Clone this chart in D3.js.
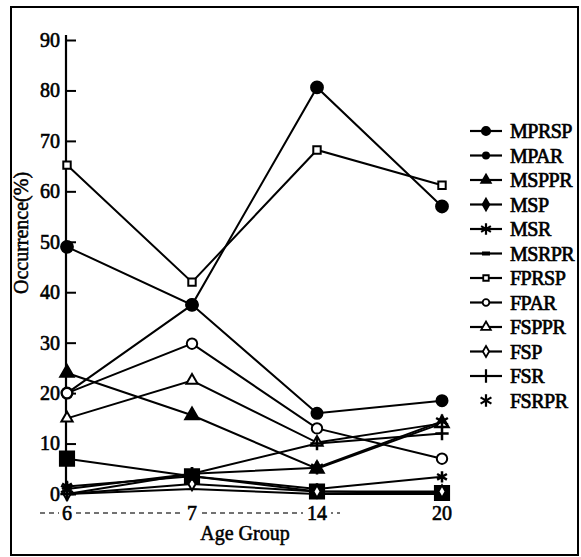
<!DOCTYPE html>
<html>
<head>
<meta charset="utf-8">
<script src="https://cdn.jsdelivr.net/npm/d3@7"></script>
<style>
  body { margin: 0; background: #fff; }
  text { font-family: "Liberation Serif", "DejaVu Serif", serif; fill: #000; }
</style>
</head>
<body>
<svg id="chart" width="581" height="557"></svg>
<script>
// age groups on the x axis
var ages = ["6", "7", "14", "20"];
var yTicks = [0, 10, 20, 30, 40, 50, 60, 70, 80, 90];

// occurrence (%) per series, one value per age group
var MPRSP = [20, 37.5, 16, 18.5];
var MPAR  = [7, 3.5, 0.5, 0.2];
var MSPPR = [24, 15.6, 5, 14];
var MSP   = [49, 37.5, 80.6, 57];
var MSR   = [1.5, 3.5, 1, 3.4];
var MSRPR = [0, 1, 0, 0];
var FPRSP = [65.2, 42, 68.2, 61.2];
var FPAR  = [20, 29.8, 13, 7];
var FSPPR = [15, 22.5, 10.2, 14];
var FSP   = [0, 2, 0.5, 0.5];
var FSR   = [0, 4, 10, 12];
var FSRPR = [1, 4, 5.2, 14.4];

var seriesNames = ["MPRSP", "MPAR", "MSPPR", "MSP", "MSR", "MSRPR",
                   "FPRSP", "FPAR", "FSPPR", "FSP", "FSR", "FSRPR"];
var seriesValues = [MPRSP, MPAR, MSPPR, MSP, MSR, MSRPR,
                    FPRSP, FPAR, FSPPR, FSP, FSR, FSRPR];

// marker look for plot and legend
var marks = {
  MPRSP: {sym: d3.symbolCircle,   size: 95,  fill: "#000", leg: 55},
  MPAR:  {sym: d3.symbolSquare,   size: 200, fill: "#000", leg: 30, legSym: d3.symbolCircle},
  MSPPR: {sym: d3.symbolTriangle, size: 80,  fill: "#000", leg: 40},
  MSP:   {sym: d3.symbolCircle,   size: 110, fill: "#000", leg: 40, legSym: d3.symbolDiamond},
  MSR:   {sym: d3.symbolAsterisk, size: 90,  fill: "none", leg: 90, stroke: true},
  MSRPR: {sym: null, leg: 0},
  FPRSP: {sym: d3.symbolSquare,   size: 55,  fill: "#fff", leg: 30},
  FPAR:  {sym: d3.symbolCircle,   size: 85,  fill: "#fff", leg: 35},
  FSPPR: {sym: d3.symbolTriangle, size: 55,  fill: "#fff", leg: 40},
  FSP:   {sym: d3.symbolDiamond,  size: 45,  fill: "#fff", leg: 35},
  FSR:   {sym: d3.symbolPlus,     size: 60,  fill: "none", leg: 60, stroke: true},
  FSRPR: {sym: d3.symbolAsterisk, size: 130, fill: "none", leg: 110, stroke: true, noLine: true}
};

var svg = d3.select("#chart");

// outer frame
svg.append("rect").attr("x", 11).attr("y", 7).attr("width", 567).attr("height", 548)
  .attr("fill", "none").attr("stroke", "#000").attr("stroke-width", 2);

var x = d3.scalePoint().domain(ages).range([67, 442]);
var y = d3.scaleLinear().domain([0, 90]).range([494, 40]);

// y axis
var yAxis = svg.append("g").attr("transform", "translate(66,0)")
  .call(d3.axisLeft(y).tickValues(yTicks).tickSize(-10).tickPadding(6).tickFormat(d3.format("d")));
yAxis.select(".domain").attr("d", "M0,35V494").attr("stroke", "#000").attr("stroke-width", 2.2);
yAxis.selectAll(".tick line").attr("stroke", "#000").attr("stroke-width", 2);
yAxis.selectAll(".tick text").style("font-size", "20px").attr("fill", "#000")
  .attr("stroke", "#000").attr("stroke-width", 0.6);

svg.append("text").attr("transform", "translate(28,233) rotate(-90)")
  .attr("text-anchor", "middle").style("font-size", "20px")
  .attr("stroke", "#000").attr("stroke-width", 0.5)
  .text("Occurrence(%)");

// dashed baseline with age labels
svg.append("line").attr("x1", 40).attr("x2", 340).attr("y1", 513).attr("y2", 513)
  .attr("stroke", "#444").attr("stroke-width", 1.5).attr("stroke-dasharray", "5,4");
var xl = svg.selectAll(".xlab").data(ages).enter().append("g")
  .attr("transform", function(d) { return "translate(" + x(d) + ",520)"; });
xl.append("rect").attr("x", function(d) { return -d.length * 6 - 2; }).attr("y", -16)
  .attr("width", function(d) { return d.length * 12 + 4; }).attr("height", 18).attr("fill", "#fff");
xl.append("text").attr("text-anchor", "middle").style("font-size", "20px")
  .attr("stroke", "#000").attr("stroke-width", 0.6).text(function(d) { return d; });

svg.append("text").attr("x", 245).attr("y", 540).attr("text-anchor", "middle")
  .style("font-size", "20px").attr("stroke", "#000").attr("stroke-width", 0.5)
  .text("Age Group");

// lines
var line = d3.line().x(function(d, i) { return x(ages[i]); }).y(function(d) { return y(d); });

seriesNames.forEach(function(name, k) {
  svg.append("path").datum(seriesValues[k]).attr("d", line)
    .attr("fill", "none").attr("stroke", "#000").attr("stroke-width", 2);
});

// markers
seriesNames.forEach(function(name, k) {
  var m = marks[name];
  if (!m.sym) return;
  svg.selectAll(".m" + k).data(seriesValues[k]).enter().append("path")
    .attr("transform", function(d, i) { return "translate(" + x(ages[i]) + "," + y(d) + ")"; })
    .attr("d", d3.symbol().type(m.sym).size(m.size))
    .attr("fill", m.fill).attr("stroke", "#000").attr("stroke-width", m.stroke ? 2.5 : 2);
});

// legend
var leg = svg.selectAll(".leg").data(seriesNames).enter().append("g")
  .attr("transform", function(d, i) { return "translate(470," + (131 + i * 24.5) + ")"; });
leg.each(function(name) {
  var g = d3.select(this), m = marks[name];
  if (!m.noLine) {
    g.append("line").attr("x1", 0).attr("x2", 32).attr("y1", 0).attr("y2", 0)
      .attr("stroke", "#000").attr("stroke-width", 2.2);
  }
  if (m.sym) {
    g.append("path").attr("transform", "translate(16,0)")
      .attr("d", d3.symbol().type(m.legSym || m.sym).size(m.leg))
      .attr("fill", m.fill).attr("stroke", "#000").attr("stroke-width", m.stroke ? 2.2 : 1.8);
  } else {
    g.append("rect").attr("x", 12).attr("y", -2).attr("width", 8).attr("height", 4).attr("fill", "#000");
  }
  g.append("text").attr("x", 40).attr("y", 7).style("font-size", "20px")
    .attr("stroke", "#000").attr("stroke-width", 0.7).attr("letter-spacing", "-0.5")
    .text(name);
});
</script>
</body>
</html>
